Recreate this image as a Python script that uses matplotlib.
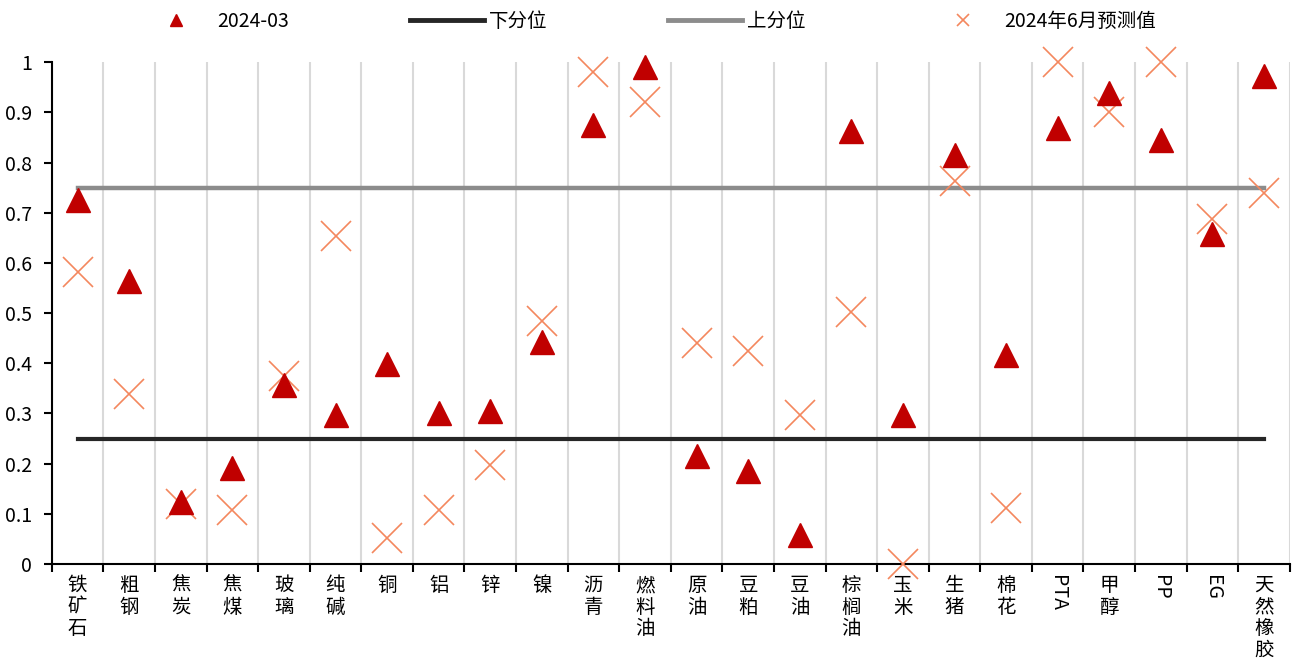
import numpy as np
import matplotlib.pyplot as plt
from matplotlib.lines import Line2D

plt.rcParams['font.family'] = ['Noto Sans CJK SC', 'DejaVu Sans']
plt.rcParams['axes.unicode_minus'] = False

# 品种及分位数据
names = ['铁矿石', '粗钢', '焦炭', '焦煤', '玻璃', '纯碱', '铜', '铝', '锌', '镍',
         '沥青', '燃料油', '原油', '豆粕', '豆油', '棕榈油', '玉米', '生猪', '棉花',
         'PTA', '甲醇', 'PP', 'EG', '天然橡胶']
mar_2024 = [0.725, 0.564, 0.124, 0.191, 0.357, 0.297, 0.398, 0.301, 0.305, 0.442,
            0.875, 0.99, 0.215, 0.185, 0.058, 0.863, 0.297, 0.815, 0.416,
            0.869, 0.938, 0.845, 0.657, 0.972]
jun_forecast = [0.582, 0.339, 0.12, 0.108, 0.375, 0.653, 0.052, 0.108, 0.197, 0.484,
                0.98, 0.92, 0.44, 0.424, 0.297, 0.502, 0.0, 0.763, 0.112,
                1.0, 0.9, 1.0, 0.687, 0.739]
lower_q = 0.25
upper_q = 0.75

x = np.arange(len(names))

fig = plt.figure(figsize=(12.95, 6.62), dpi=100)
ax = fig.add_axes([0.040, 0.148, 0.956, 0.758])

ax.plot(x, [lower_q] * len(x), color='#262626', lw=3, zorder=2)
ax.plot(x, [upper_q] * len(x), color='#8C8C8C', lw=3.2, zorder=2)
ax.plot(x, jun_forecast, ls='none', marker='x', ms=21, mew=1.2,
        color='#F4875E', zorder=3, clip_on=False)
ax.plot(x, mar_2024, ls='none', marker='^', ms=17, color='#C00000',
        zorder=4, clip_on=False)

ax.set_xlim(-0.5, len(names) - 0.5)
ax.set_ylim(0, 1)
ax.set_yticks(np.arange(0, 1.01, 0.1))
ax.set_yticklabels(['0', '0.1', '0.2', '0.3', '0.4', '0.5', '0.6', '0.7', '0.8', '0.9', '1'])

# 分隔线与刻度放在品种之间
ax.set_xticks(np.arange(len(names) + 1) - 0.5)
ax.set_xticklabels([])
ax.set_xticks(x, minor=True)
labels = []
for n in names:
    if n.isascii():
        labels.append(n)
    else:
        labels.append('\n'.join(n))
ax.set_xticklabels(labels, minor=True)
for lab, n in zip(ax.get_xticklabels(minor=True), names):
    lab.set_verticalalignment('top')
    lab.set_linespacing(1.04)
    if n.isascii():
        lab.set_rotation(-90)
ax.tick_params(axis='x', which='minor', length=0, pad=8, labelsize=14)
ax.tick_params(axis='x', which='major', length=6, width=1.5, direction='out')
ax.tick_params(axis='y', length=6, width=1.5, direction='out', labelsize=14, pad=8)
ax.grid(axis='x', which='major', color='#D9D9D9', lw=1.5)
ax.set_axisbelow(True)

for s in ['top', 'right']:
    ax.spines[s].set_visible(False)
ax.spines['left'].set_linewidth(1.5)
ax.spines['bottom'].set_linewidth(1.5)

handles = [
    Line2D([], [], ls='none', marker='^', ms=8, color='#C00000'),
    Line2D([], [], color='#262626', lw=3.5),
    Line2D([], [], color='#8C8C8C', lw=3.5),
    Line2D([], [], ls='none', marker='x', ms=8, mew=1.2, color='#F4875E'),
]
fig.legend(handles, ['2024-03', '下分位', '上分位', '2024年6月预测值'],
           loc='center', bbox_to_anchor=(0.5, 0.968), ncol=4, frameon=False,
           fontsize=14, handlelength=3.8, handletextpad=0.25, columnspacing=6.2)

fig.savefig('out.png', dpi=100)
